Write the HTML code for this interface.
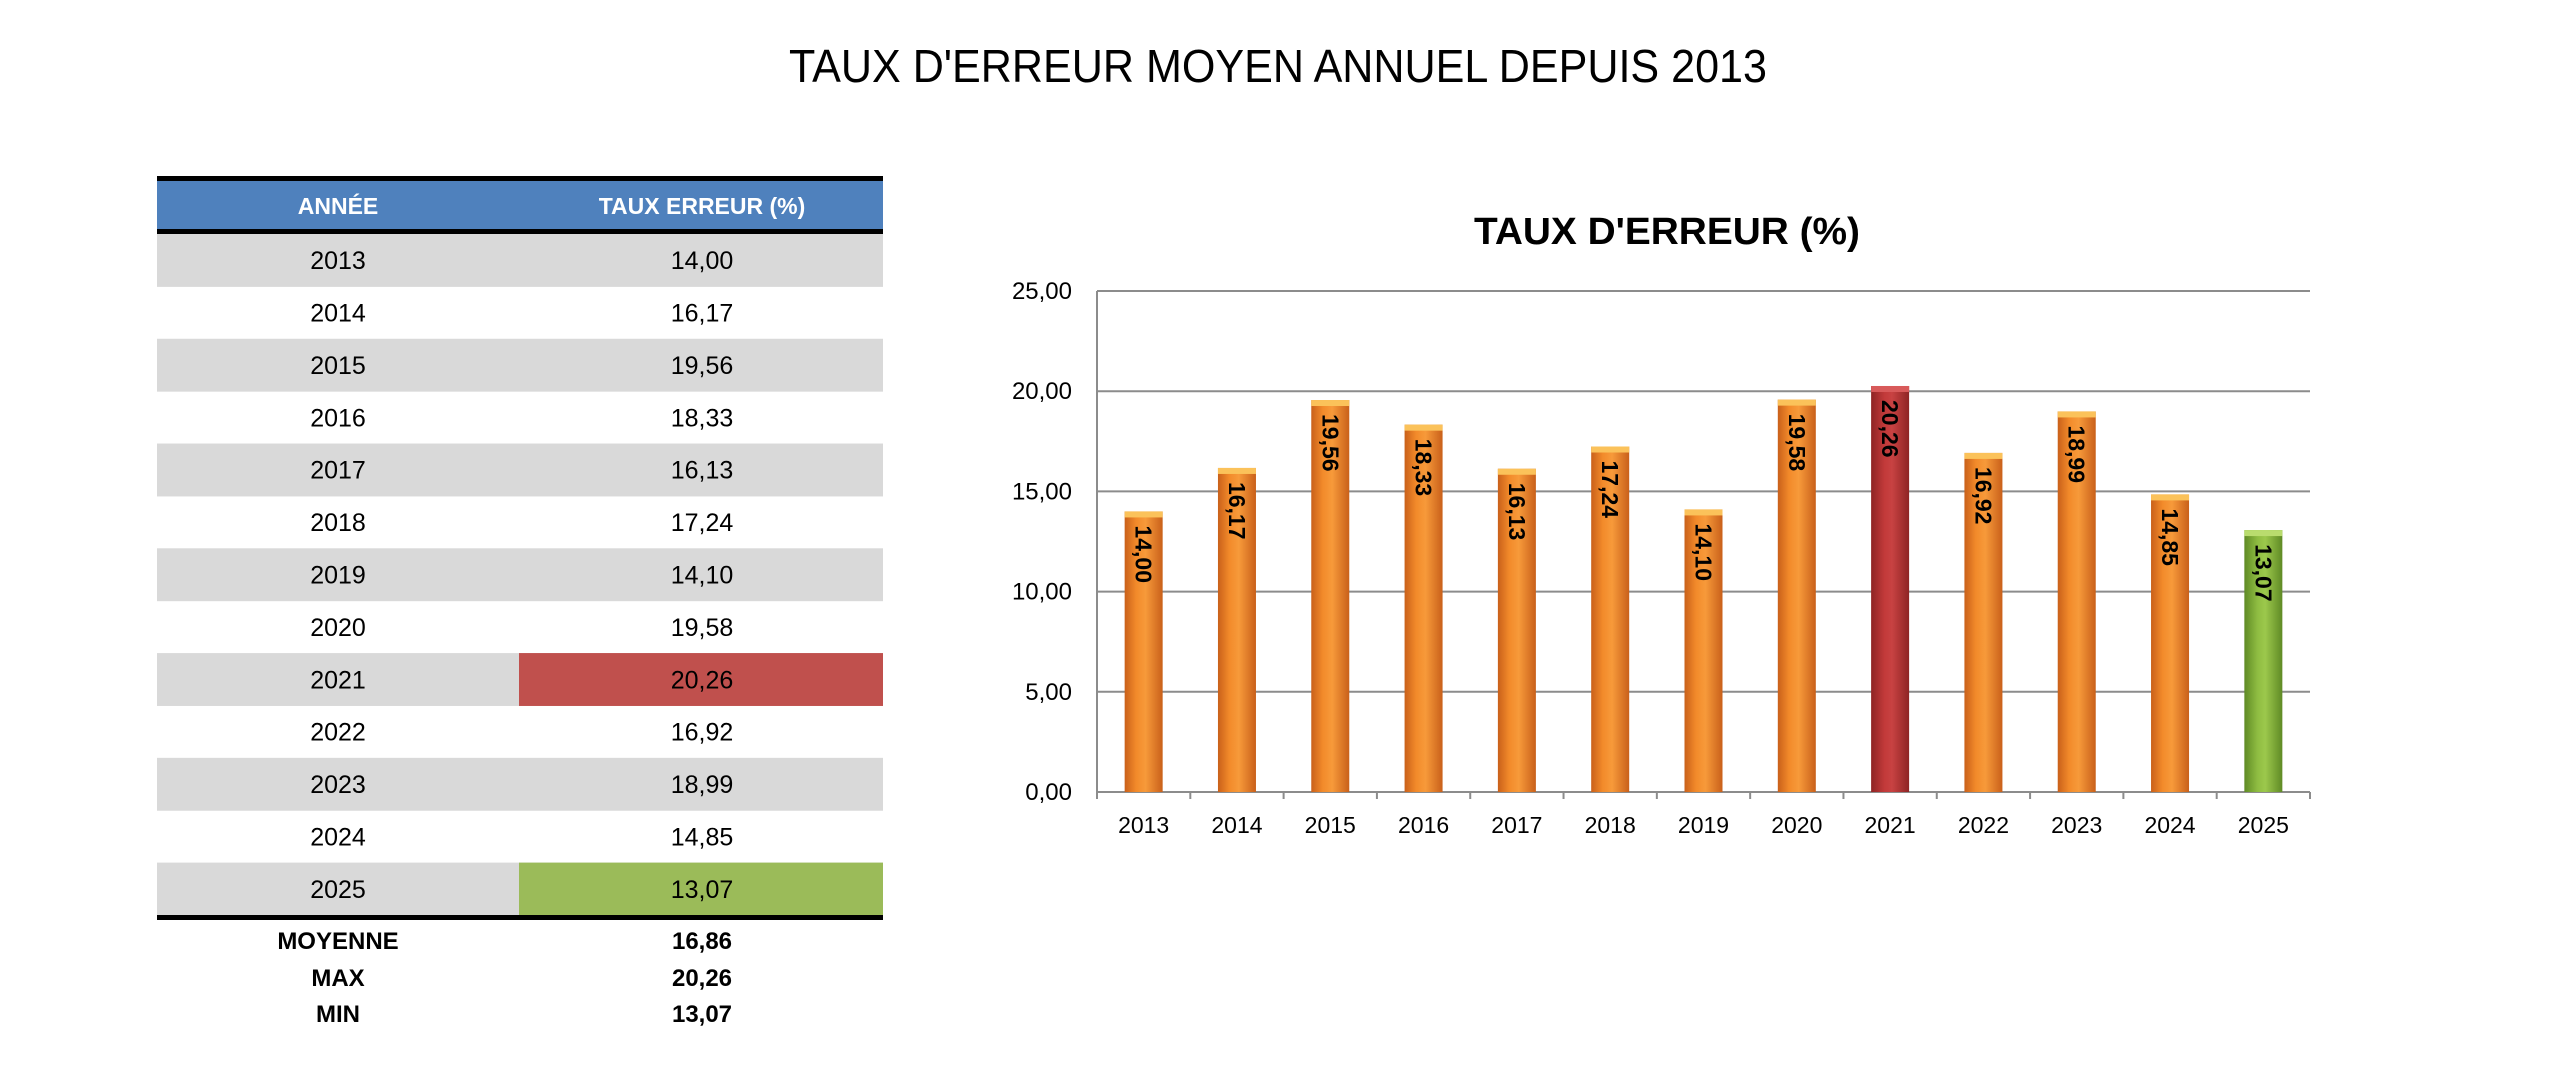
<!DOCTYPE html>
<html><head><meta charset="utf-8"><style>
html,body{margin:0;padding:0;background:#fff;}
svg{display:block;font-family:"Liberation Sans",sans-serif;}
</style></head><body>
<svg width="2560" height="1075" viewBox="0 0 2560 1075" xmlns="http://www.w3.org/2000/svg">
<defs>
<linearGradient id="go" x1="0" x2="1" y1="0" y2="0">
<stop offset="0" stop-color="#c9601a"/><stop offset="0.3" stop-color="#f28a2a"/><stop offset="0.55" stop-color="#f79a3a"/><stop offset="1" stop-color="#c9601a"/></linearGradient>
<linearGradient id="gr" x1="0" x2="1" y1="0" y2="0">
<stop offset="0" stop-color="#8e2424"/><stop offset="0.35" stop-color="#c23a3a"/><stop offset="0.55" stop-color="#c84242"/><stop offset="1" stop-color="#8e2424"/></linearGradient>
<linearGradient id="gg" x1="0" x2="1" y1="0" y2="0">
<stop offset="0" stop-color="#5f8a25"/><stop offset="0.35" stop-color="#8fbd42"/><stop offset="0.55" stop-color="#9cc84c"/><stop offset="1" stop-color="#5f8a25"/></linearGradient>
</defs>
<text x="1278" y="82" text-anchor="middle" font-size="46" textLength="978" lengthAdjust="spacingAndGlyphs" fill="#000">TAUX D'ERREUR MOYEN ANNUEL DEPUIS 2013</text>

<rect x="157" y="176" width="726" height="5" fill="#000"/>
<rect x="157" y="181" width="726" height="49" fill="#4f81bd"/>
<text x="338" y="214" text-anchor="middle" font-size="23" font-weight="bold" fill="#fff">ANNÉE</text>
<text x="702" y="214" text-anchor="middle" font-size="23" font-weight="bold" fill="#fff">TAUX ERREUR (%)</text>
<rect x="157" y="229" width="726" height="5" fill="#000"/>
<g id="rows" font-size="25" fill="#000" text-anchor="middle"></g>
<rect x="157" y="915" width="726" height="5" fill="#000"/>
<g font-size="24" font-weight="bold" text-anchor="middle">
<text x="338" y="949">MOYENNE</text><text x="702" y="949">16,86</text>
<text x="338" y="986">MAX</text><text x="702" y="986">20,26</text>
<text x="338" y="1022">MIN</text><text x="702" y="1022">13,07</text>
</g>

<text x="1667" y="244" text-anchor="middle" font-size="38" font-weight="bold" textLength="386" lengthAdjust="spacingAndGlyphs">TAUX D'ERREUR (%)</text>
<g id="chart"></g>
</svg>
<script>
(function(){
var ns="http://www.w3.org/2000/svg";
function el(p,t,a,txt){var e=document.createElementNS(ns,t);for(var k in a)e.setAttribute(k,a[k]);if(txt!==undefined)e.textContent=txt;p.appendChild(e);return e;}
var years=[2013,2014,2015,2016,2017,2018,2019,2020,2021,2022,2023,2024,2025];
var vals=[14.00,16.17,19.56,18.33,16.13,17.24,14.10,19.58,20.26,16.92,18.99,14.85,13.07];
function f(v){return v.toFixed(2).replace('.',',');}
var rows=document.getElementById('rows');
var top0=234,rh=(915-234)/13;
for(var i=0;i<13;i++){
 var y=top0+i*rh;
 if(i%2==0) el(rows,'rect',{x:157,y:y,width:726,height:rh+0.5,fill:'#d9d9d9'});
 if(i==8) el(rows,'rect',{x:519,y:y,width:364,height:rh+0.5,fill:'#c0504d'});
 if(i==12) el(rows,'rect',{x:519,y:y,width:364,height:rh+0.5,fill:'#9bbb59'});
 el(rows,'text',{x:338,y:y+rh/2+9},String(years[i]));
 el(rows,'text',{x:702,y:y+rh/2+9},f(vals[i]));
}
var c=document.getElementById('chart');
var x0=1097,x1=2310,y0=792,y25=291,k=(y0-y25)/25,cw=(x1-x0)/13;
for(var g=0;g<=5;g++){
 var yy=y0-g*5*k;
 el(c,'line',{x1:x0,x2:x1,y1:yy,y2:yy,stroke:'#8c8c8c','stroke-width':2});
 el(c,'text',{x:1072,y:yy+8,'text-anchor':'end','font-size':24},f(g*5));
}
el(c,'line',{x1:x0,x2:x0,y1:y25,y2:y0+6,stroke:'#8c8c8c','stroke-width':2});
for(var i=0;i<=13;i++){var xx=x0+i*cw;el(c,'line',{x1:xx,x2:xx,y1:y0,y2:y0+7,stroke:'#8c8c8c','stroke-width':2});}
for(var i=0;i<13;i++){
 var cx=x0+cw*(i+0.5),v=vals[i],bt=y0-v*k,w=38;
 var fill=i==8?'url(#gr)':(i==12?'url(#gg)':'url(#go)');
 var cap=i==8?'#d85a5a':(i==12?'#b9dc6e':'#fbc25a');
 el(c,'rect',{x:cx-w/2,y:bt,width:w,height:y0-bt,fill:fill});
 el(c,'rect',{x:cx-w/2,y:bt,width:w,height:6,fill:cap});
 el(c,'text',{x:cx,y:833,'text-anchor':'middle','font-size':23},String(years[i]));
 el(c,'text',{x:cx,y:bt+14,'font-size':23,'font-weight':'bold','dominant-baseline':'central',transform:'rotate(90 '+cx+' '+(bt+14)+')'},f(v));
}
})();
</script>
</body></html>
